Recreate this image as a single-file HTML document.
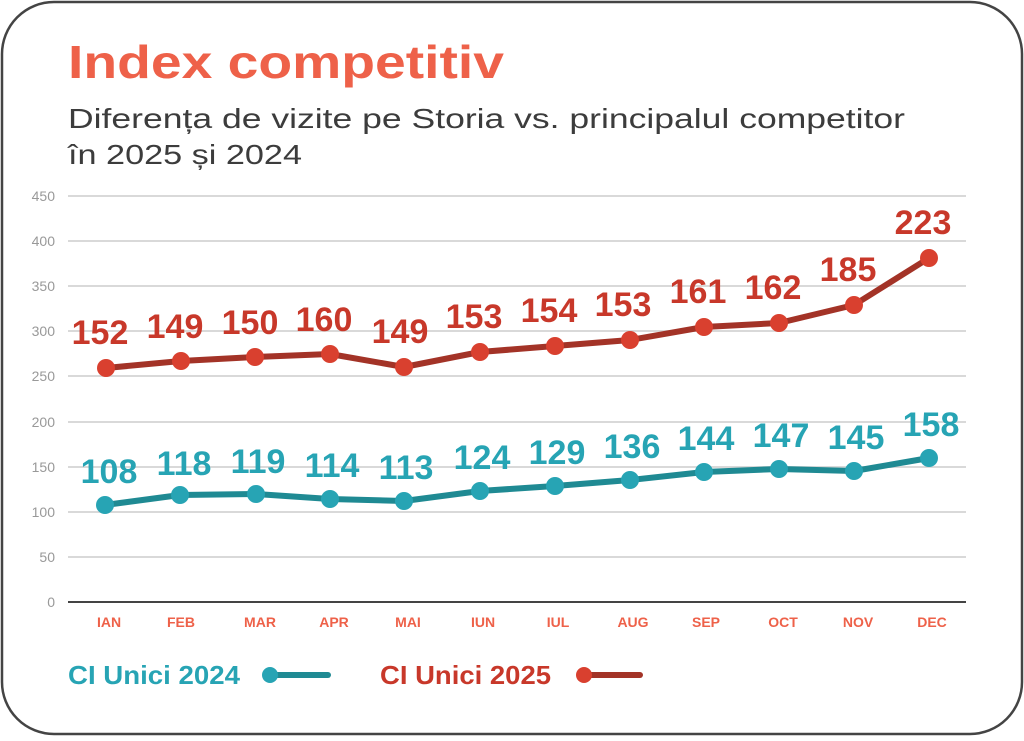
<!DOCTYPE html>
<html><head><meta charset="utf-8"><style>
html,body{margin:0;padding:0;background:#fff;}
body{width:1024px;height:736px;overflow:hidden;font-family:"Liberation Sans",sans-serif;}
</style></head><body>
<svg width="1024" height="736" xmlns="http://www.w3.org/2000/svg" font-family="Liberation Sans, sans-serif">
<rect x="2" y="2" width="1020" height="732" rx="52" fill="#fff" stroke="#444" stroke-width="2.5"/>
<text x="68" y="78" font-size="46" font-weight="bold" fill="#ee6149" textLength="436" lengthAdjust="spacingAndGlyphs">Index competitiv</text>
<text x="68" y="128" font-size="28" fill="#3c3c3c" textLength="837" lengthAdjust="spacingAndGlyphs">Diferența de vizite pe Storia vs. principalul competitor</text>
<text x="68" y="164" font-size="28" fill="#3c3c3c" textLength="234" lengthAdjust="spacingAndGlyphs">în 2025 și 2024</text>
<g stroke="#d9d9d9" stroke-width="2">
<line x1="68" x2="966" y1="196" y2="196"/><line x1="68" x2="966" y1="241" y2="241"/><line x1="68" x2="966" y1="286" y2="286"/><line x1="68" x2="966" y1="331" y2="331"/><line x1="68" x2="966" y1="376" y2="376"/><line x1="68" x2="966" y1="422" y2="422"/><line x1="68" x2="966" y1="467" y2="467"/><line x1="68" x2="966" y1="512" y2="512"/><line x1="68" x2="966" y1="557" y2="557"/>
</g>
<line x1="68" x2="966" y1="602" y2="602" stroke="#444" stroke-width="2"/>
<g font-size="14" fill="#999" text-anchor="end">
<text x="55" y="201">450</text><text x="55" y="246">400</text><text x="55" y="291">350</text><text x="55" y="336">300</text><text x="55" y="381">250</text><text x="55" y="427">200</text><text x="55" y="472">150</text><text x="55" y="517">100</text><text x="55" y="562">50</text><text x="55" y="607">0</text>
</g>
<g font-size="14" font-weight="bold" fill="#ee6149" text-anchor="middle">
<text x="109" y="627">IAN</text><text x="181" y="627">FEB</text><text x="260" y="627">MAR</text><text x="334" y="627">APR</text><text x="408" y="627">MAI</text><text x="483" y="627">IUN</text><text x="558" y="627">IUL</text><text x="633" y="627">AUG</text><text x="706" y="627">SEP</text><text x="783" y="627">OCT</text><text x="858" y="627">NOV</text><text x="932" y="627">DEC</text>
</g>
<polyline fill="none" stroke="#a33327" stroke-width="6" stroke-linejoin="round" points="106,368 181,361 255,357 330,354 404,367 480,352 555,346 630,340 704,327 779,323 854,305 929,258"/>
<g fill="#d9402f">
<circle cx="106" cy="368" r="9"/><circle cx="181" cy="361" r="9"/><circle cx="255" cy="357" r="9"/><circle cx="330" cy="354" r="9"/><circle cx="404" cy="367" r="9"/><circle cx="480" cy="352" r="9"/><circle cx="555" cy="346" r="9"/><circle cx="630" cy="340" r="9"/><circle cx="704" cy="327" r="9"/><circle cx="779" cy="323" r="9"/><circle cx="854" cy="305" r="9"/><circle cx="929" cy="258" r="9"/>
</g>
<g font-size="34" font-weight="bold" fill="#c8382a" text-anchor="middle">
<text x="100" y="344">152</text><text x="175" y="338">149</text><text x="250" y="334">150</text><text x="324" y="331">160</text><text x="400" y="343">149</text><text x="474" y="328">153</text><text x="549" y="322">154</text><text x="623" y="316">153</text><text x="698" y="303">161</text><text x="773" y="299">162</text><text x="848" y="281">185</text><text x="923" y="234">223</text>
</g>
<polyline fill="none" stroke="#1f8a93" stroke-width="6" stroke-linejoin="round" points="105,505 180,495 256,494 330,499 404,501 480,491 555,486 630,480 704,472 779,469 854,471 929,458"/>
<g fill="#27a4b4">
<circle cx="105" cy="505" r="9"/><circle cx="180" cy="495" r="9"/><circle cx="256" cy="494" r="9"/><circle cx="330" cy="499" r="9"/><circle cx="404" cy="501" r="9"/><circle cx="480" cy="491" r="9"/><circle cx="555" cy="486" r="9"/><circle cx="630" cy="480" r="9"/><circle cx="704" cy="472" r="9"/><circle cx="779" cy="469" r="9"/><circle cx="854" cy="471" r="9"/><circle cx="929" cy="458" r="9"/>
</g>
<g font-size="34" font-weight="bold" fill="#27a4b4" text-anchor="middle">
<text x="109" y="483">108</text><text x="184" y="475">118</text><text x="258" y="473">119</text><text x="332" y="477">114</text><text x="406" y="479">113</text><text x="482" y="469">124</text><text x="557" y="464">129</text><text x="632" y="458">136</text><text x="706" y="450">144</text><text x="781" y="447">147</text><text x="856" y="449">145</text><text x="931" y="436">158</text>
</g>
<text x="68" y="684" font-size="26" font-weight="bold" fill="#27a4b4" textLength="172" lengthAdjust="spacingAndGlyphs">CI Unici 2024</text>
<line x1="270" y1="675" x2="328" y2="675" stroke="#1f8a93" stroke-width="6" stroke-linecap="round"/>
<circle cx="270" cy="675" r="8" fill="#27a4b4"/>
<text x="380" y="684" font-size="26" font-weight="bold" fill="#c8382a" textLength="171" lengthAdjust="spacingAndGlyphs">CI Unici 2025</text>
<line x1="584" y1="675" x2="640" y2="675" stroke="#a33327" stroke-width="6" stroke-linecap="round"/>
<circle cx="584" cy="675" r="8" fill="#d9402f"/>
</svg>
</body></html>
